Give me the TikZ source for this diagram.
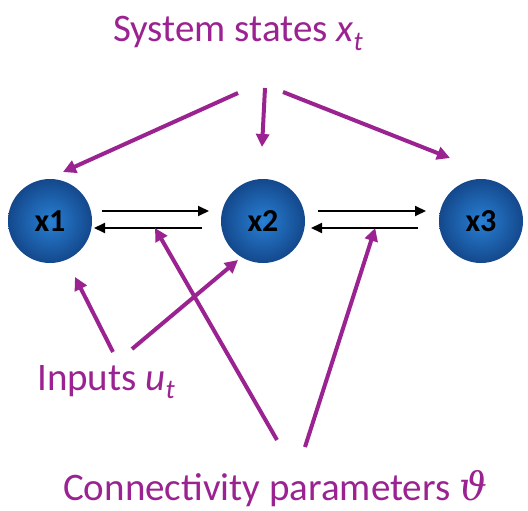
\documentclass[tikz,border=0pt]{standalone}
\usepackage{fontspec}
\setmainfont{Carlito}
\newfontfamily\symfont{DejaVu Serif}
\usetikzlibrary{arrows.meta,calc}
\definecolor{statecol}{RGB}{155,35,145}
\definecolor{ballin}{RGB}{40,128,212}
\definecolor{ballout}{RGB}{20,72,140}

\begin{document}
\begin{tikzpicture}[x=1pt,y=-1pt,
	state/.style={circle,minimum size=84pt,inner sep=0pt,outer sep=0pt,inner color=ballin,outer color=ballout,font=\fontsize{32}{36}\selectfont\bfseries},
	lbl/.style={text=statecol,font=\fontsize{39}{46}\selectfont,anchor=base west,inner sep=0pt},
	flow/.style={-{Triangle[length=11pt,width=10pt]},line width=2pt},
	pointer/.style={-{Triangle[length=13pt,width=13pt]},line width=4pt,draw=statecol}]
\useasboundingbox (0,0) rectangle (528,511);

\node [state] (x1) at (50,221) {x1};
\node [state] (x2) at (263,221) {x2};
\node [state] (x3) at (481,221) {x3};

\draw [flow] ($(x1.east)+(10,-10)$) -- ($(x2.west)+(-12,-10)$);
\draw [flow] ($(x2.west)+(-19,7)$) -- coordinate[pos=0.435] (c12) ($(x1.east)+(2,7)$);
\draw [flow] ($(x2.east)+(13,-10)$) -- ($(x3.west)+(-13,-10)$);
\draw [flow] ($(x3.west)+(-21,7)$) -- coordinate[pos=0.4] (c23) ($(x2.east)+(6,7)$);

\node [lbl] (states) at (113,42) {System states {\itshape x\textsubscript{t}}};
\node [lbl] (inputs) at (37,390) {Inputs {\itshape u\textsubscript{t}}};
\node [lbl] (params) at (63,500) {Connectivity parameters {\symfont\itshape ϑ}};

\coordinate (s1) at (238,93);
\coordinate (s2) at (265,88);
\coordinate (s3) at (283,92);
\coordinate (u1) at (113,352);
\coordinate (u2) at (132,349);
\coordinate (p1) at (277,440);
\coordinate (p2) at (305,447);

\draw [pointer] (s1) -- ($(x1)+(13,-49)$);
\draw [pointer] (s2) -- ($(x2)+(-1,-74)$);
\draw [pointer] (s3) -- ($(x3)+(-31,-63)$);
\draw [pointer] (u1) -- ($(x1)+(25,56)$);
\draw [pointer] (u2) -- ($(x2)+(-25,39)$);
\draw [pointer] (p1) -- (c12);
\draw [pointer] (p2) -- (c23);
\end{tikzpicture}
\end{document}
